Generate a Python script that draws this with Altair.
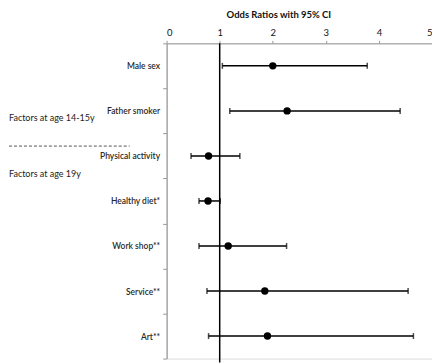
import altair as alt
import pandas as pd

categories = ["Male sex", "Father smoker", "Physical activity", "Healthy diet*",
              "Work shop**", "Service**", "Art**"]
odds = [2.00, 2.27, 0.79, 0.78, 1.16, 1.85, 1.90]
lower = [1.05, 1.19, 0.46, 0.61, 0.61, 0.76, 0.79]
upper = [3.78, 4.40, 1.38, 1.01, 2.26, 4.55, 4.65]
x_ticks = [0, 1, 2, 3, 4, 5]
group_labels = ["Factors at age 14-15y", "Factors at age 19y"]
reference_or = [1]

df = pd.DataFrame({"cat": categories, "or": odds, "lo": lower, "hi": upper})
ref_df = pd.DataFrame({"ref": reference_or})

W, H = 266, 316
FONT = "Lato"

xscale = alt.Scale(domain=[0, 5], nice=False, zero=False)
yscale = alt.Scale(domain=categories, paddingInner=0, paddingOuter=0)

x_axis = alt.Axis(
    orient="top", values=x_ticks, format="d", grid=False,
    title="Odds Ratios with 95% CI", titleX=112, titleY=-29,
    titleBaseline="middle", titleAlign="center",
    titleFont=FONT, titleFontSize=9.5, titleFontWeight="bold", titleColor="#111",
    labelFont=FONT, labelFontSize=9.5, labelColor="#111", labelPadding=3,
    domainColor="#9a9a9a", tickColor="#9a9a9a", tickSize=3, domainWidth=1,
)
y_axis = alt.Axis(
    title=None, tickBand="extent", tickSize=4, tickColor="#9a9a9a",
    domainColor="#9a9a9a", domainWidth=1.2, labelPadding=3,
    labelFont=FONT, labelFontSize=8.5, labelColor="#2a2a2a", labelFontWeight=600,
)

base = alt.Chart(df)

bars = base.mark_rule(color="black", strokeWidth=1.5).encode(
    x=alt.X("lo:Q", scale=xscale, axis=x_axis),
    x2="hi:Q",
    y=alt.Y("cat:N", sort=categories, scale=yscale, axis=y_axis),
)

caps = base.transform_fold(["lo", "hi"], as_=["end", "val"]).mark_tick(
    color="black", size=6, thickness=1.5, orient="vertical"
).encode(
    x=alt.X("val:Q", scale=xscale),
    y=alt.Y("cat:N", sort=categories, scale=yscale),
)

points = base.mark_circle(color="black", size=55, opacity=1).encode(
    x=alt.X("or:Q", scale=xscale),
    y=alt.Y("cat:N", sort=categories, scale=yscale),
)

ref = alt.Chart(ref_df).mark_rule(color="black", strokeWidth=1.5).encode(
    x=alt.X("ref:Q", scale=xscale),
    y=alt.value(0),
    y2=alt.value(H + 4),
)

ann_df = pd.DataFrame({"label": group_labels, "ypos": [75, 131]})
ann = alt.Chart(ann_df).mark_text(
    align="left", baseline="middle", font=FONT, fontSize=9, color="#222"
).encode(
    x=alt.value(-158),
    y=alt.Y("ypos:Q", scale=None),
    text="label:N",
)

dash = alt.Chart(ann_df.head(1)).mark_rule(
    color="#555", strokeWidth=1, strokeDash=[3, 2]
).encode(
    x=alt.value(-158), x2=alt.value(-37), y=alt.value(103)
)

chart = alt.layer(ref, bars, caps, points, ann, dash).properties(
    width=W, height=H,
    autosize=alt.AutoSizeParams(type="none"),
    padding={"left": 159, "top": 35, "right": 0, "bottom": 4},
).configure_view(stroke=None).configure(background="white")

chart.save("out.html", embed_options={"renderer": "svg", "actions": False})
